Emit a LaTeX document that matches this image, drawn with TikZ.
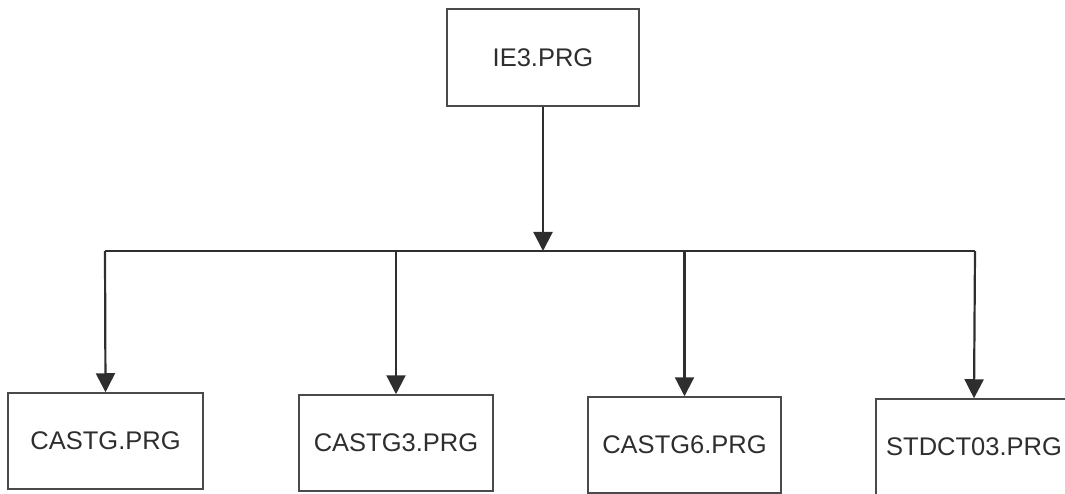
\documentclass[tikz,border=0pt]{standalone}
\usepackage{fontspec}
\setmainfont{Liberation Sans}
\usetikzlibrary{arrows.meta}
\definecolor{ink}{HTML}{2E2E2E}
\definecolor{boxline}{HTML}{4A4A4A}
\begin{document}
\begin{tikzpicture}[x=1pt,y=-1pt,
  prgbox/.style={draw=boxline,line width=1.5pt,rectangle,inner sep=0pt,
    text=ink,font=\fontsize{25.5}{29}\selectfont},
  conn/.style={draw=ink,line width=2.2pt},
  arr/.style={conn,-{Triangle[width=19pt,length=19pt]}}]
\useasboundingbox (0,0) rectangle (1065,494);
\node[prgbox,minimum width=192pt,minimum height=97pt] (top) at (543,57.5) {IE3.PRG};
\node[prgbox,minimum width=195pt,minimum height=96pt] (a) at (105.5,441) {CASTG.PRG};
\node[prgbox,minimum width=194pt,minimum height=96pt] (b) at (396,443) {CASTG3.PRG};
\node[prgbox,minimum width=193pt,minimum height=96pt] (c) at (684.5,445) {CASTG6.PRG};
\node[prgbox,minimum width=196pt,minimum height=96pt] (d) at (974,447) {STDCT03.PRG};
\coordinate (j) at (543,251);
\coordinate (la) at (105,251);
\coordinate (ld) at (975,251);
\draw[arr] (top.south) -- (j);
\draw[conn] (la) -- (ld);
\draw[arr] (la) -- (a.north);
\draw[arr] (b.north |- j) -- (b.north);
\draw[arr] (c.north |- j) -- (c.north);
\draw[arr] (ld) -- (d.north);
\end{tikzpicture}
\end{document}
